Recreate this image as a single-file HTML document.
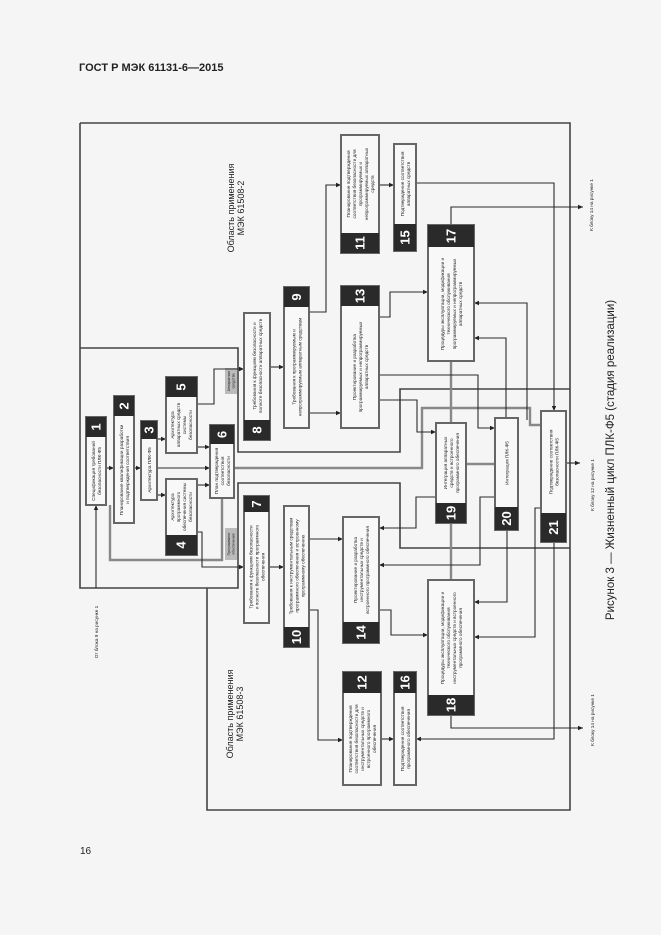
<!DOCTYPE html>
<html><head><meta charset="utf-8"><style>
html,body{margin:0;padding:0;background:#f5f5f5}
svg{display:block}
text{font-family:"Liberation Sans",sans-serif}
.t{font-size:4.7px;fill:#222}
.n{font-size:13px;font-weight:bold;fill:#fff}
.b{fill:#f8f8f8;stroke:#666;stroke-width:2}
.h{fill:#2a2a2a}
.l{fill:none;stroke:#2a2a2a;stroke-width:1.1}
.g{fill:none;stroke:#888;stroke-width:2.4}
.r{fill:none;stroke:#444;stroke-width:1.6}
</style></head><body>
<svg width="661" height="935" viewBox="0 0 661 935" xmlns="http://www.w3.org/2000/svg">
<defs><marker id="a" markerWidth="6" markerHeight="6" refX="5" refY="3" orient="auto" markerUnits="userSpaceOnUse"><path d="M0,0.8 L5,3 L0,5.2z" fill="#222"/></marker></defs>
<rect width="661" height="935" fill="#f5f5f5"/>
<text x="79" y="71" style="font-size:11px;font-weight:bold;fill:#222">ГОСТ Р МЭК 61131-6—2015</text>
<text x="80" y="854" style="font-size:10px;fill:#222">16</text>

<path class="r" d="M80,123 H570 V810 H207 V588"/>
<path class="r" d="M80,123 V588 H238 V483 H400 V548 H570"/>
<path class="r" d="M80,348 H238 V452 H400 V389 H570"/>

<text transform="translate(236,208) rotate(-90)" text-anchor="middle" style="font-size:9px;fill:#222"><tspan x="0" y="-2">Область применения</tspan><tspan x="0" y="8">МЭК 61508-2</tspan></text>
<text transform="translate(235,714) rotate(-90)" text-anchor="middle" style="font-size:9px;fill:#222"><tspan x="0" y="-2">Область применения</tspan><tspan x="0" y="8">МЭК 61508-3</tspan></text>
<rect x="225" y="368" width="12" height="26" fill="#bbb"/>
<text transform="translate(231,381) rotate(-90)" text-anchor="middle" class="t" style="font-size:3.6px"><tspan x="0" y="-1">Аппаратные</tspan><tspan x="0" y="3.5">средства</tspan></text>
<rect x="225" y="528" width="12" height="32" fill="#bbb"/>
<text transform="translate(231,544) rotate(-90)" text-anchor="middle" class="t" style="font-size:3.6px"><tspan x="0" y="-1">Программное</tspan><tspan x="0" y="3.5">обеспечение</tspan></text>

<text transform="translate(98,632) rotate(-90)" text-anchor="middle" class="t">От блока 9 на рисунке 1</text>
<text transform="translate(593,205) rotate(-90)" text-anchor="middle" class="t">К блоку 14 на рисунке 1</text>
<text transform="translate(594,485) rotate(-90)" text-anchor="middle" class="t">К блоку 12 на рисунке 1</text>
<text transform="translate(594,720) rotate(-90)" text-anchor="middle" class="t">К блоку 14 на рисунке 1</text>
<text transform="translate(614,460) rotate(-90)" text-anchor="middle" style="font-size:11.5px;fill:#222">Рисунок 3 — Жизненный цикл ПЛК-Ф5 (стадия реализации)</text>

<path class="g" d="M110,505 V560 H222 V499"/>
<path class="g" d="M233,468 H422 V408 H530 V425 H541"/>
<path class="g" d="M451,361 V423"/>
<path class="g" d="M466,464 H495"/>
<path class="g" d="M451,523 V580"/>

<g class="l" marker-end="url(#a)">
<path d="M96,588 V505"/>
<path d="M106,468 H114"/>
<path d="M134,468 H141"/>
<path d="M157,439 H166"/>
<path d="M157,495 H166"/>
<path d="M157,468 H210"/>
<path d="M197,447 H210"/>
<path d="M197,485 H210"/>
<path d="M197,404 H214 V369 H244"/>
<path d="M197,532 H202 V567 H244"/>
<path d="M270,367 H284"/>
<path d="M269,567 H284"/>
<path d="M309,413 H341"/>
<path d="M309,312 H326 V185 H341"/>
<path d="M309,539 H343"/>
<path d="M309,610 H318 V740 H343"/>
<path d="M379,185 H394"/>
<path d="M381,739 H394"/>
<path d="M379,317 H390 V292 H428"/>
<path d="M379,375 H478 V428 H495"/>
<path d="M379,400 H417 V432 H436"/>
<path d="M416,183 H554 V411"/>
<path d="M527,420 V303 H474"/>
<path d="M506,418 V338 H474"/>
<path d="M451,225 V207 H583"/>
<path d="M507,531 V602 H474"/>
<path d="M541,508 H535 V637 H474"/>
<path d="M554,542 V739 H416"/>
<path d="M451,715 V728 H583"/>
<path d="M566,463 H580"/>
<path d="M379,610 H391 V635 H428"/>
<path d="M436,497 H416 V528 H379"/>
<path d="M495,497 H480 V565 H379"/>
</g>

<g>
<rect class="b" x="86" y="417" width="20" height="88"/><rect class="h" x="86" y="417" width="20" height="20"/>
<text class="n" transform="translate(96,427) rotate(-90)" text-anchor="middle" y="4.5">1</text>
<text class="t" transform="translate(96,471) rotate(-90)" text-anchor="middle"><tspan x="0" y="-1.2">Спецификация требований</tspan><tspan x="0" y="4.8">безопасности ПЛК-Ф5</tspan></text>

<rect class="b" x="114" y="396" width="20" height="127"/><rect class="h" x="114" y="396" width="20" height="20"/>
<text class="n" transform="translate(124,406) rotate(-90)" text-anchor="middle" y="4.5">2</text>
<text class="t" transform="translate(124,470) rotate(-90)" text-anchor="middle"><tspan x="0" y="-1.2">Планирование квалификации разработки</tspan><tspan x="0" y="4.8">и подтверждения соответствия</tspan></text>

<rect class="b" x="141" y="421" width="16" height="79"/><rect class="h" x="141" y="421" width="16" height="18"/>
<text class="n" transform="translate(149,430) rotate(-90)" text-anchor="middle" y="4.5">3</text>
<text class="t" transform="translate(149,470) rotate(-90)" text-anchor="middle"><tspan x="0" y="1.8">Архитектура ПЛК-Ф5</tspan></text>

<rect class="b" x="166" y="479" width="31" height="76"/><rect class="h" x="166" y="535" width="31" height="20"/>
<text class="n" transform="translate(181,545) rotate(-90)" text-anchor="middle" y="4.5">4</text>
<text class="t" transform="translate(181,507) rotate(-90)" text-anchor="middle"><tspan x="0" y="-7.2">Архитектура</tspan><tspan x="0" y="-1.2">программного</tspan><tspan x="0" y="4.8">обеспечения системы</tspan><tspan x="0" y="10.8">безопасности</tspan></text>

<rect class="b" x="166" y="377" width="31" height="76"/><rect class="h" x="166" y="377" width="31" height="20"/>
<text class="n" transform="translate(181,387) rotate(-90)" text-anchor="middle" y="4.5">5</text>
<text class="t" transform="translate(181,425) rotate(-90)" text-anchor="middle"><tspan x="0" y="-7.2">Архитектура</tspan><tspan x="0" y="-1.2">аппаратных средств</tspan><tspan x="0" y="4.8">системы</tspan><tspan x="0" y="10.8">безопасности</tspan></text>

<rect class="b" x="210" y="425" width="24" height="73"/><rect class="h" x="210" y="425" width="24" height="19"/>
<text class="n" transform="translate(222,434.5) rotate(-90)" text-anchor="middle" y="4.5">6</text>
<text class="t" transform="translate(222,471) rotate(-90)" text-anchor="middle"><tspan x="0" y="-4.2">План подтверждения</tspan><tspan x="0" y="1.8">соответствия</tspan><tspan x="0" y="7.8">безопасности</tspan></text>

<rect class="b" x="244" y="496" width="25" height="127"/><rect class="h" x="244" y="496" width="25" height="16"/>
<text class="n" transform="translate(256.5,504) rotate(-90)" text-anchor="middle" y="4.5">7</text>
<text class="t" transform="translate(256.5,567) rotate(-90)" text-anchor="middle"><tspan x="0" y="-4.2">Требования к функциям безопасности</tspan><tspan x="0" y="1.8">и полноте безопасности программного</tspan><tspan x="0" y="7.8">обеспечения</tspan></text>

<rect class="b" x="244" y="313" width="26" height="127"/><rect class="h" x="244" y="420" width="26" height="20"/>
<text class="n" transform="translate(257,430) rotate(-90)" text-anchor="middle" y="4.5">8</text>
<text class="t" transform="translate(257,366) rotate(-90)" text-anchor="middle"><tspan x="0" y="-1.2">Требования к функциям безопасности и</tspan><tspan x="0" y="4.8">полноте безопасности аппаратных средств</tspan></text>

<rect class="b" x="284" y="287" width="25" height="141"/><rect class="h" x="284" y="287" width="25" height="20"/>
<text class="n" transform="translate(296.5,297) rotate(-90)" text-anchor="middle" y="4.5">9</text>
<text class="t" transform="translate(296.5,367) rotate(-90)" text-anchor="middle"><tspan x="0" y="-1.2">Требования к программируемым и</tspan><tspan x="0" y="4.8">непрограммируемым аппаратным средствам</tspan></text>

<rect class="b" x="284" y="506" width="25" height="141"/><rect class="h" x="284" y="627" width="25" height="20"/>
<text class="n" transform="translate(296.5,637) rotate(-90)" text-anchor="middle" y="4.5">10</text>
<text class="t" transform="translate(296.5,566) rotate(-90)" text-anchor="middle"><tspan x="0" y="-4.2">Требования к инструментальным средствам</tspan><tspan x="0" y="1.8">программного обеспечения и встроенному</tspan><tspan x="0" y="7.8">программному обеспечению</tspan></text>

<rect class="b" x="341" y="135" width="38" height="118"/><rect class="h" x="341" y="233" width="38" height="20"/>
<text class="n" transform="translate(360,243) rotate(-90)" text-anchor="middle" y="4.5">11</text>
<text class="t" transform="translate(360,184) rotate(-90)" text-anchor="middle"><tspan x="0" y="-10.2">Планирование подтверждения</tspan><tspan x="0" y="-4.2">соответствия безопасности для</tspan><tspan x="0" y="1.8">программируемых и</tspan><tspan x="0" y="7.8">непрограммируемых аппаратных</tspan><tspan x="0" y="13.8">средств</tspan></text>

<rect class="b" x="343" y="672" width="38" height="113"/><rect class="h" x="343" y="672" width="38" height="21"/>
<text class="n" transform="translate(362,682.5) rotate(-90)" text-anchor="middle" y="4.5">12</text>
<text class="t" transform="translate(362,739) rotate(-90)" text-anchor="middle"><tspan x="0" y="-10.2">Планирование подтверждения</tspan><tspan x="0" y="-4.2">соответствия безопасности для</tspan><tspan x="0" y="1.8">инструментальных средств и</tspan><tspan x="0" y="7.8">встроенного программного</tspan><tspan x="0" y="13.8">обеспечения</tspan></text>

<rect class="b" x="341" y="286" width="38" height="142"/><rect class="h" x="341" y="286" width="38" height="20"/>
<text class="n" transform="translate(360,296) rotate(-90)" text-anchor="middle" y="4.5">13</text>
<text class="t" transform="translate(360,367) rotate(-90)" text-anchor="middle"><tspan x="0" y="-4.2">Проектирование и разработка</tspan><tspan x="0" y="1.8">программируемых и непрограммируемых</tspan><tspan x="0" y="7.8">аппаратных средств</tspan></text>

<rect class="b" x="343" y="517" width="36" height="126"/><rect class="h" x="343" y="622" width="36" height="21"/>
<text class="n" transform="translate(361,632.5) rotate(-90)" text-anchor="middle" y="4.5">14</text>
<text class="t" transform="translate(361,570) rotate(-90)" text-anchor="middle"><tspan x="0" y="-4.2">Проектирование и разработка</tspan><tspan x="0" y="1.8">инструментальных средств и</tspan><tspan x="0" y="7.8">встроенного программного обеспечения</tspan></text>

<rect class="b" x="394" y="144" width="22" height="107"/><rect class="h" x="394" y="224" width="22" height="27"/>
<text class="n" transform="translate(405,237.5) rotate(-90)" text-anchor="middle" y="4.5">15</text>
<text class="t" transform="translate(405,184) rotate(-90)" text-anchor="middle"><tspan x="0" y="-1.2">Подтверждение соответствия</tspan><tspan x="0" y="4.8">аппаратных средств</tspan></text>

<rect class="b" x="394" y="672" width="22" height="113"/><rect class="h" x="394" y="672" width="22" height="21"/>
<text class="n" transform="translate(405,682.5) rotate(-90)" text-anchor="middle" y="4.5">16</text>
<text class="t" transform="translate(405,739) rotate(-90)" text-anchor="middle"><tspan x="0" y="-1.2">Подтверждение соответствия</tspan><tspan x="0" y="4.8">программного обеспечения</tspan></text>

<rect class="b" x="428" y="225" width="46" height="136"/><rect class="h" x="428" y="225" width="46" height="22"/>
<text class="n" transform="translate(451,236) rotate(-90)" text-anchor="middle" y="4.5">17</text>
<text class="t" transform="translate(451,304) rotate(-90)" text-anchor="middle"><tspan x="0" y="-7.2">Процедуры эксплуатации, модификации и</tspan><tspan x="0" y="-1.2">технического обслуживания</tspan><tspan x="0" y="4.8">программируемых и непрограммируемых</tspan><tspan x="0" y="10.8">аппаратных средств</tspan></text>

<rect class="b" x="428" y="580" width="46" height="135"/><rect class="h" x="428" y="695" width="46" height="20"/>
<text class="n" transform="translate(451,705) rotate(-90)" text-anchor="middle" y="4.5">18</text>
<text class="t" transform="translate(451,638) rotate(-90)" text-anchor="middle"><tspan x="0" y="-7.2">Процедуры эксплуатации, модификации и</tspan><tspan x="0" y="-1.2">технического обслуживания</tspan><tspan x="0" y="4.8">инструментальных средств и встроенного</tspan><tspan x="0" y="10.8">программного обеспечения</tspan></text>

<rect class="b" x="436" y="423" width="30" height="100"/><rect class="h" x="436" y="503" width="30" height="20"/>
<text class="n" transform="translate(451,513) rotate(-90)" text-anchor="middle" y="4.5">19</text>
<text class="t" transform="translate(451,463) rotate(-90)" text-anchor="middle"><tspan x="0" y="-4.2">Интеграция аппаратных</tspan><tspan x="0" y="1.8">средств и встроенного</tspan><tspan x="0" y="7.8">программного обеспечения</tspan></text>

<rect class="b" x="495" y="418" width="23" height="112"/><rect class="h" x="495" y="507" width="23" height="23"/>
<text class="n" transform="translate(506.5,518.5) rotate(-90)" text-anchor="middle" y="4.5">20</text>
<text class="t" transform="translate(506.5,463) rotate(-90)" text-anchor="middle"><tspan x="0" y="1.8">Интеграция ПЛК-Ф5</tspan></text>

<rect class="b" x="541" y="411" width="25" height="131"/><rect class="h" x="541" y="513" width="25" height="29"/>
<text class="n" transform="translate(553.5,527.5) rotate(-90)" text-anchor="middle" y="4.5">21</text>
<text class="t" transform="translate(553.5,462) rotate(-90)" text-anchor="middle"><tspan x="0" y="-1.2">Подтверждение соответствия</tspan><tspan x="0" y="4.8">безопасности ПЛК-Ф5</tspan></text>
</g>
</svg>
</body></html>
